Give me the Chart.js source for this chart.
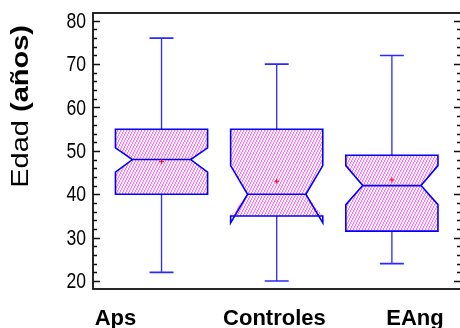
<!DOCTYPE html>
<html>
<head>
<meta charset="utf-8">
<script src="https://cdn.jsdelivr.net/npm/chart.js@4.4.1/dist/chart.umd.min.js"></script>
<style>
  html, body { margin: 0; padding: 0; background: #fff; overflow: hidden; }
  #wrap { width: 470px; height: 328px; }
</style>
</head>
<body>
<div id="wrap"><canvas id="chart" width="470" height="328"></canvas></div>
<script>
// box plot values
const groups    = ['Aps', 'Controles', 'EAng'];
const mins      = [22, 20, 24];
const q1s       = [40, 35, 31.5];
const medians   = [48, 40, 42];
const q3s       = [55, 55, 49];
const maxs      = [76, 70, 72];
const means     = [47.5, 43, 43.3];
const notchLow  = [45.1, 33.4, 37.6];
const notchHigh = [50.7, 46.6, 46.6];
const yLabels   = [20, 30, 40, 50, 60, 70, 80];

// layout (x units, box i sits at i + 1)
const labelAt = [0.6, 1.98, 3.2];
const boxHalf = 0.4;
const notchIn = 0.147;
const capHalf = 0.104;

function makeHatch() {
  const t = document.createElement('canvas');
  t.width = 3; t.height = 6;
  const c = t.getContext('2d');
  c.fillStyle = '#fff';
  c.fillRect(0, 0, 3, 6);
  for (let r = 0; r < 6; r++) {
    const x0 = ((2 - Math.floor(r / 2)) % 3 + 3) % 3;
    c.fillStyle = '#f27af2';
    c.fillRect(x0, r, 1, 1);
    c.fillStyle = '#fbd6fb';
    c.fillRect((x0 + 1) % 3, r, 1, 1);
  }
  return c.createPattern(t, 'repeat');
}

const boxPlugin = {
  id: 'boxes',
  beforeDatasetsDraw(chart) {
    const {ctx, scales: {x, y}} = chart;
    const hatch = makeHatch();
    ctx.save();
    groups.forEach((g, i) => {
      const c = i + 1;
      const xl = x.getPixelForValue(c - boxHalf);
      const xr = x.getPixelForValue(c + boxHalf);
      const nl = x.getPixelForValue(c - boxHalf + notchIn);
      const nr = x.getPixelForValue(c + boxHalf - notchIn);
      const xc = x.getPixelForValue(c);
      const cl = x.getPixelForValue(c - capHalf);
      const cr = x.getPixelForValue(c + capHalf);
      const yq1 = y.getPixelForValue(q1s[i]);
      const yq3 = y.getPixelForValue(q3s[i]);
      const ym = y.getPixelForValue(medians[i]);
      const ynl = y.getPixelForValue(notchLow[i]);
      const ynh = y.getPixelForValue(notchHigh[i]);
      const ymin = y.getPixelForValue(mins[i]);
      const ymax = y.getPixelForValue(maxs[i]);

      // whiskers
      ctx.strokeStyle = '#2a2aff';
      ctx.lineWidth = 1.3;
      ctx.beginPath();
      ctx.moveTo(xc, yq3); ctx.lineTo(xc, ymax);
      ctx.moveTo(xc, yq1); ctx.lineTo(xc, ymin);
      ctx.stroke();
      ctx.lineWidth = 1.6;
      ctx.beginPath();
      ctx.moveTo(cl, ymax); ctx.lineTo(cr, ymax);
      ctx.moveTo(cl, ymin); ctx.lineTo(cr, ymin);
      ctx.stroke();

      // hatched body, notch kept inside the box
      const fLo = y.getPixelForValue(Math.max(notchLow[i], q1s[i]));
      const fHi = y.getPixelForValue(Math.min(notchHigh[i], q3s[i]));
      ctx.beginPath();
      ctx.moveTo(xl, yq3); ctx.lineTo(xr, yq3); ctx.lineTo(xr, fHi);
      ctx.lineTo(nr, ym); ctx.lineTo(xr, fLo); ctx.lineTo(xr, yq1);
      ctx.lineTo(xl, yq1); ctx.lineTo(xl, fLo); ctx.lineTo(nl, ym);
      ctx.lineTo(xl, fHi); ctx.closePath();
      ctx.fillStyle = hatch;
      ctx.fill();

      // outline
      ctx.strokeStyle = '#0000ff';
      ctx.lineWidth = 1.6;
      ctx.beginPath();
      ctx.moveTo(xl, yq3); ctx.lineTo(xr, yq3); ctx.lineTo(xr, ynh);
      ctx.lineTo(nr, ym); ctx.lineTo(xr, ynl); ctx.lineTo(xr, yq1);
      ctx.lineTo(xl, yq1); ctx.lineTo(xl, ynl); ctx.lineTo(nl, ym);
      ctx.lineTo(xl, ynh); ctx.closePath();
      ctx.moveTo(nl, ym); ctx.lineTo(nr, ym);
      ctx.stroke();
    });
    ctx.restore();
  },
  afterDraw(chart) {
    const {ctx, chartArea: a, scales: {y}} = chart;
    ctx.save();
    // frame
    ctx.strokeStyle = '#111';
    ctx.lineWidth = 1.8;
    ctx.strokeRect(a.left, a.top, a.right - a.left, a.bottom - a.top);
    // inward tick marks, every 2 years
    ctx.lineWidth = 1.4;
    ctx.beginPath();
    for (let v = 20; v <= 80; v += 2) {
      const py = Math.round(y.getPixelForValue(v)) + 0.5;
      const len = v % 10 === 0 ? 7 : 4;
      ctx.moveTo(a.left, py); ctx.lineTo(a.left + len, py);
      ctx.moveTo(a.right - len, py); ctx.lineTo(a.right, py);
    }
    ctx.stroke();

    // y tick labels, slightly condensed like the original
    ctx.fillStyle = '#000';
    ctx.textAlign = 'right';
    ctx.textBaseline = 'middle';
    ctx.font = '22px "Liberation Sans", Arial, sans-serif';
    y.ticks.forEach(t => {
      ctx.save();
      ctx.translate(86, y.getPixelForValue(t.value) + 1);
      ctx.scale(0.8, 1);
      ctx.fillText(String(t.value), 0, 0);
      ctx.restore();
    });

    // axis title: "Edad" regular, "(años)" bold
    ctx.translate(28, 25);
    ctx.rotate(-Math.PI / 2);
    ctx.scale(1, 0.8);
    ctx.textAlign = 'right';
    ctx.textBaseline = 'alphabetic';
    ctx.font = 'bold 29px "Liberation Sans", Arial, sans-serif';
    ctx.fillText('(años)', 0, 0);
    const w = ctx.measureText('(años)').width;
    ctx.font = '29px "Liberation Sans", Arial, sans-serif';
    ctx.fillText('Edad ', -w, 0);
    ctx.restore();
  }
};

const ctx = document.getElementById('chart').getContext('2d');

new Chart(ctx, {
  type: 'scatter',
  data: {
    datasets: [{
      data: means.map((m, i) => ({x: i + 1, y: m})),
      pointStyle: 'cross',
      radius: 2.5,
      borderColor: '#ff0000',
      backgroundColor: '#ff0000',
      borderWidth: 1
    }]
  },
  options: {
    responsive: false,
    animation: false,
    layout: { padding: { left: 36, top: 13, right: 9, bottom: 0 } },
    plugins: { legend: { display: false }, tooltip: { enabled: false } },
    scales: {
      x: {
        type: 'linear',
        min: 0.405,
        max: 3.6,
        border: { display: false },
        grid: { display: false },
        afterBuildTicks: s => { s.ticks = labelAt.map(v => ({value: v})); },
        afterFit: s => { s.height = 39; s.paddingLeft = 0; s.paddingRight = 0; },
        ticks: {
          autoSkip: false,
          maxRotation: 0,
          padding: 9,
          color: '#000',
          callback: (v, i) => groups[i],
          font: { family: '"Liberation Sans", Arial, sans-serif', size: 22, weight: 'bold' }
        }
      },
      y: {
        min: 18.16,
        max: 81.78,
        border: { display: false },
        grid: { display: false },
        afterBuildTicks: s => { s.ticks = yLabels.map(v => ({value: v})); },
        afterFit: s => { s.width = 57; s.paddingTop = 0; s.paddingBottom = 0; },
        ticks: { display: false }
      }
    }
  },
  plugins: [boxPlugin]
});
</script>
</body>
</html>
